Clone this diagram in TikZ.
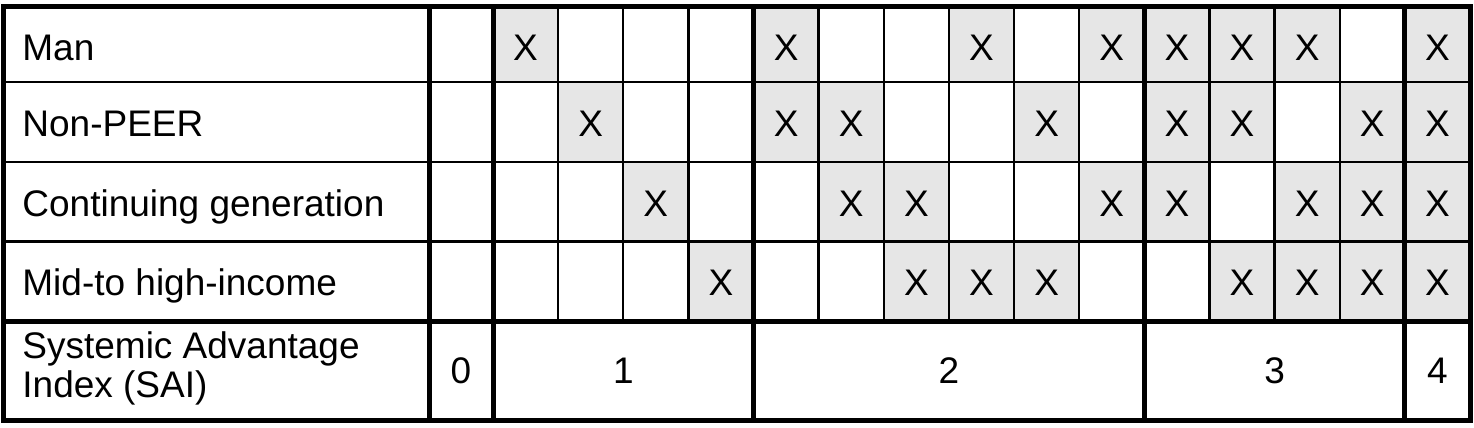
\documentclass[tikz,border=0pt]{standalone}
\usepackage{fontspec}
\setmainfont{Liberation Sans}
\usetikzlibrary{positioning}
\definecolor{cellgray}{RGB}{230,230,230}

\begin{document}
\begin{tikzpicture}[x=0.5pt, y=-0.5pt,
    tick cell/.style={fill=cellgray},
    cell text/.style={inner sep=0pt, text height=13.25pt, text depth=0pt, font=\fontsize{18.5}{19.2}\selectfont},
    row label/.style={cell text, anchor=west},
    thin rule/.style={line width=1.2pt},
    thick rule/.style={line width=2.5pt}]
    \useasboundingbox (0,0) rectangle (1474,428);
    % Marked cells
    \foreach \r/\ya/\yb/\yc/\cols in {man/6.5/82/47/{1,5,8,10,11,12,13,15},
                                      peer/82/162/123.5/{2,5,6,9,11,12,14,15},
                                      gen/162/241.5/203/{3,6,7,10,11,13,14,15},
                                      inc/241.5/321/282.5/{4,7,8,9,12,13,14,15}} {
        \foreach \c in \cols {
            \pgfmathsetmacro\xl{493+65.13*(\c-1)}
            \fill[tick cell] (\xl,\ya) rectangle ({\xl+65.13},\yb);
            \node (\r\c) [cell text] at ({\xl+32.565},\yc) {X};
        }
    }
    % Row labels
    \node (man) [row label] at (22,47) {Man};
    \node (peer) [row label] at (22,123.5) {Non-PEER};
    \node (gen) [row label] at (22,203) {Continuing generation};
    \node (inc) [row label] at (22,282.5) {Mid-to high-income};
    \node (sai) [anchor=west, inner sep=0pt, align=left, font=\fontsize{18.5}{19.2}\selectfont] at (22,368.3) {Systemic Advantage\\Index (SAI)};
    % Index values
    \node (sai0) [cell text] at (461,370.5) {0};
    \node (sai1) [cell text] at (623.3,370.5) {1};
    \node (sai2) [cell text] at (948.9,370.5) {2};
    \node (sai3) [cell text] at (1274.6,370.5) {3};
    \node (sai4) [cell text] at (1437.4,370.5) {4};
    % Thin rules
    \foreach \y in {82,162,241.5}
        \draw[thin rule] (3,\y) -- (1470,\y);
    \foreach \c in {2,3,4,6,7,8,9,10,12,13,14}
        \draw[thin rule] ({493+65.13*(\c-1)},6.5) -- ({493+65.13*(\c-1)},321);
    % Thick rules
    \draw[thick rule] (3,321) -- (1470,321);
    \foreach \x in {429,493,753.5,1144.3,1404.9}
        \draw[thick rule] (\x,6.5) -- (\x,420);
    \draw[thick rule] (3,6.5) rectangle (1470,420);
\end{tikzpicture}
\end{document}
